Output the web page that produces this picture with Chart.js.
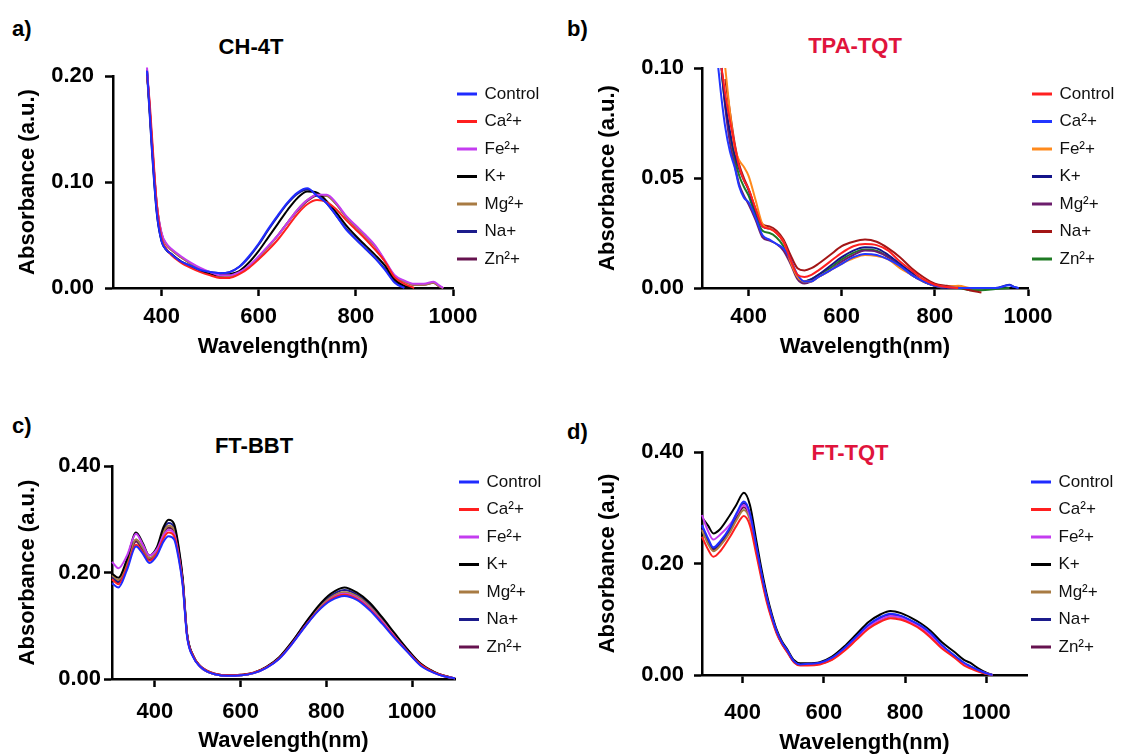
<!DOCTYPE html>
<html>
<head>
<meta charset="utf-8">
<script src="https://cdn.jsdelivr.net/npm/chart.js@4.4.1/dist/chart.umd.min.js"></script>
<style>
  body { margin: 0; background: #fff; width: 1121px; height: 756px; position: relative; overflow: hidden;
         font-family: "Liberation Sans", Arial, Helvetica, sans-serif; }
  canvas { position: absolute; }
  .tag { position: absolute; font-weight: bold; font-size: 22px; line-height: 1; color: #000; }
  .ttl { position: absolute; font-weight: bold; font-size: 22px; line-height: 1; white-space: nowrap;
         transform: translate(-50%, -50%); }
</style>
</head>
<body>
<div class="tag" style="left:12px;top:18px">a)</div>
<div class="tag" style="left:567px;top:18px">b)</div>
<div class="tag" style="left:12px;top:415px">c)</div>
<div class="tag" style="left:567px;top:421px">d)</div>
<div class="ttl" style="left:251px;top:47px;color:#000">CH-4T</div>
<div class="ttl" style="left:855px;top:46px;color:#e0143c">TPA-TQT</div>
<div class="ttl" style="left:254px;top:446px;color:#000">FT-BBT</div>
<div class="ttl" style="left:850px;top:453px;color:#e0143c">FT-TQT</div>

<canvas id="chartA" width="560" height="378" style="left:0;top:0"></canvas>
<canvas id="chartB" width="561" height="378" style="left:560px;top:0"></canvas>
<canvas id="chartC" width="560" height="378" style="left:0;top:378px"></canvas>
<canvas id="chartD" width="561" height="378" style="left:560px;top:378px"></canvas>

<script>
// legend names, same order in every panel
const ionNames = ['Control', 'Ca²+', 'Fe²+', 'K+', 'Mg²+', 'Na+', 'Zn²+'];
const colorsMain = ['#1f2bff', '#ff1f1f', '#c43cf0', '#000000', '#a87b43', '#1c1c8c', '#66124f'];
const colorsTpa = ['#ff2020', '#2236ff', '#ff8a1c', '#14148a', '#6c1d6c', '#a31616', '#1e7a23'];

// ---- a) CH-4T
const waveA = [370, 375, 380, 390, 400, 410, 420, 440, 460, 480, 500, 520, 540, 560, 580, 600, 620, 640,
               660, 680, 700, 720, 740, 760, 780, 800, 820, 840, 860, 880, 900, 920, 940, 960, 970, 980];
const ch4tControl = [0.205, 0.170, 0.133, 0.072, 0.044, 0.036, 0.032, 0.025, 0.021, 0.017, 0.015, 0.014, 0.015, 0.020, 0.030, 0.042, 0.056, 0.069,
                     0.081, 0.090, 0.094, 0.087, 0.080, 0.068, 0.055, 0.046, 0.037, 0.028, 0.017, 0.005, 0.000, null, null, null, null, null];
const ch4tCa = [0.200, 0.178, 0.145, 0.080, 0.047, 0.037, 0.031, 0.024, 0.019, 0.015, 0.012, 0.0095, 0.0095, 0.013, 0.019, 0.027, 0.036, 0.046,
                0.058, 0.070, 0.079, 0.083, 0.081, 0.074, 0.064, 0.055, 0.046, 0.036, 0.025, 0.010, 0.004, 0.000, null, null, null, null];
const ch4tFe = [0.208, 0.175, 0.140, 0.080, 0.052, 0.042, 0.037, 0.030, 0.024, 0.019, 0.015, 0.012, 0.012, 0.015, 0.021, 0.030, 0.040, 0.050,
                0.062, 0.074, 0.083, 0.088, 0.088, 0.080, 0.068, 0.059, 0.050, 0.040, 0.026, 0.012, 0.007, 0.004, 0.004, 0.006, 0.003, 0.000];
const ch4tK = [0.205, 0.172, 0.136, 0.074, 0.045, 0.036, 0.032, 0.025, 0.020, 0.016, 0.013, 0.012, 0.013, 0.016, 0.024, 0.035, 0.048, 0.061,
               0.074, 0.085, 0.091, 0.090, 0.082, 0.071, 0.059, 0.049, 0.040, 0.031, 0.021, 0.008, 0.002, 0.000, null, null, null, null];
const ch4tMg = [0.205, 0.172, 0.138, 0.079, 0.051, 0.041, 0.036, 0.029, 0.023, 0.018, 0.014, 0.011, 0.011, 0.014, 0.020, 0.029, 0.039, 0.050,
                0.062, 0.074, 0.083, 0.088, 0.087, 0.079, 0.067, 0.058, 0.049, 0.039, 0.025, 0.011, 0.006, 0.003, 0.003, 0.005, 0.002, 0.000];
const ch4tNa = [0.203, 0.168, 0.131, 0.071, 0.044, 0.036, 0.032, 0.025, 0.021, 0.017, 0.015, 0.014, 0.015, 0.020, 0.029, 0.041, 0.055, 0.068,
                0.080, 0.089, 0.093, 0.088, 0.080, 0.068, 0.056, 0.046, 0.037, 0.028, 0.018, 0.006, 0.001, null, null, null, null, null];
const ch4tZn = [0.206, 0.173, 0.139, 0.079, 0.051, 0.041, 0.036, 0.029, 0.023, 0.018, 0.014, 0.012, 0.012, 0.014, 0.020, 0.029, 0.039, 0.050,
                0.062, 0.073, 0.082, 0.087, 0.087, 0.079, 0.067, 0.058, 0.049, 0.039, 0.025, 0.011, 0.006, 0.003, 0.003, 0.005, 0.002, 0.000];

// ---- b) TPA-TQT
const waveB = [335, 342, 350, 360, 370, 380, 390, 400, 415, 430, 445, 460, 475, 490, 505, 520, 535, 550,
               575, 600, 625, 650, 675, 700, 725, 750, 775, 800, 825, 850, 875, 900, 930, 960, 970, 980];
const tpaControl = [null, 0.100, 0.088, 0.076, 0.065, 0.055, 0.049, 0.045, 0.036, 0.028, 0.027, 0.025, 0.021, 0.013, 0.006, 0.005, 0.006, 0.008,
                    0.012, 0.016, 0.019, 0.020, 0.0195, 0.017, 0.012, 0.008, 0.004, 0.0015, 0.0005, 0.000, null, null, null, null, null, null];
const tpaCa = [0.100, 0.086, 0.073, 0.062, 0.055, 0.046, 0.041, 0.039, 0.032, 0.024, 0.022, 0.020, 0.018, 0.013, 0.006, 0.003, 0.003, 0.005,
               0.008, 0.011, 0.014, 0.0155, 0.015, 0.013, 0.010, 0.006, 0.003, 0.001, 0.0005, 0.000, 0.000, 0.000, 0.000, 0.0012, 0.0005, 0.000];
const tpaFe = [null, null, 0.100, 0.080, 0.064, 0.058, 0.055, 0.051, 0.040, 0.029, 0.027, 0.025, 0.021, 0.012, 0.005, 0.003, 0.003, 0.005,
               0.008, 0.011, 0.0135, 0.015, 0.0145, 0.013, 0.009, 0.006, 0.003, 0.001, 0.0005, 0.001, 0.000, null, null, null, null, null];
const tpaK = [null, 0.100, 0.084, 0.071, 0.061, 0.054, 0.049, 0.0445, 0.035, 0.028, 0.027, 0.025, 0.021, 0.013, 0.005, 0.003, 0.004, 0.006,
              0.010, 0.014, 0.017, 0.0185, 0.018, 0.015, 0.011, 0.007, 0.003, 0.001, 0.000, 0.000, 0.000, 0.000, 0.000, 0.0015, 0.0005, 0.000];
const tpaMg = [null, 0.100, 0.082, 0.066, 0.056, 0.047, 0.042, 0.038, 0.031, 0.023, 0.0215, 0.020, 0.017, 0.011, 0.004, 0.002, 0.003, 0.005,
               0.008, 0.012, 0.015, 0.017, 0.0165, 0.014, 0.010, 0.006, 0.003, 0.001, 0.000, 0.000, null, null, null, null, null, null];
const tpaNa = [null, null, 0.095, 0.080, 0.066, 0.056, 0.050, 0.045, 0.036, 0.029, 0.028, 0.026, 0.022, 0.015, 0.009, 0.008, 0.009, 0.011,
               0.015, 0.019, 0.021, 0.022, 0.021, 0.018, 0.014, 0.009, 0.005, 0.002, 0.001, 0.0005, -0.001, -0.002, null, null, null, null];
const tpaZn = [null, 0.098, 0.083, 0.070, 0.059, 0.051, 0.046, 0.042, 0.033, 0.026, 0.025, 0.023, 0.019, 0.012, 0.005, 0.003, 0.004, 0.006,
               0.009, 0.013, 0.016, 0.0175, 0.017, 0.014, 0.010, 0.006, 0.003, 0.001, 0.000, 0.000, -0.001, -0.001, -0.0005, 0.000, null, null];

// ---- c) FT-BBT
const waveC = [300, 315, 335, 356, 372, 387, 405, 420, 432, 445, 455, 465, 475, 490, 505, 520, 540, 570,
               600, 630, 660, 690, 720, 750, 780, 810, 842, 870, 900, 930, 960, 990, 1020, 1050, 1075, 1100];
const bbtControl = [0.180, 0.172, 0.205, 0.249, 0.235, 0.218, 0.232, 0.258, 0.268, 0.262, 0.228, 0.175, 0.080, 0.040, 0.024, 0.015, 0.009, 0.006,
                    0.007, 0.011, 0.021, 0.038, 0.066, 0.098, 0.127, 0.147, 0.156, 0.149, 0.130, 0.104, 0.076, 0.050, 0.025, 0.012, 0.005, 0.001];
const bbtCa = [0.187, 0.178, 0.210, 0.252, 0.238, 0.222, 0.236, 0.264, 0.275, 0.268, 0.233, 0.179, 0.083, 0.042, 0.025, 0.016, 0.010, 0.007,
               0.008, 0.012, 0.022, 0.039, 0.067, 0.099, 0.128, 0.149, 0.158, 0.151, 0.132, 0.106, 0.078, 0.051, 0.027, 0.013, 0.006, 0.001];
const bbtFe = [0.220, 0.208, 0.232, 0.273, 0.252, 0.232, 0.244, 0.270, 0.280, 0.273, 0.236, 0.179, 0.082, 0.041, 0.024, 0.015, 0.009, 0.006,
               0.007, 0.011, 0.021, 0.038, 0.066, 0.099, 0.128, 0.150, 0.160, 0.153, 0.134, 0.108, 0.079, 0.051, 0.026, 0.012, 0.005, 0.001];
const bbtK = [0.198, 0.190, 0.225, 0.275, 0.255, 0.232, 0.248, 0.285, 0.299, 0.291, 0.251, 0.189, 0.086, 0.043, 0.025, 0.016, 0.010, 0.007,
              0.008, 0.012, 0.023, 0.041, 0.070, 0.104, 0.136, 0.160, 0.172, 0.163, 0.144, 0.116, 0.085, 0.055, 0.029, 0.014, 0.006, 0.001];
const bbtMg = [0.195, 0.186, 0.218, 0.262, 0.246, 0.227, 0.242, 0.276, 0.288, 0.281, 0.243, 0.184, 0.084, 0.042, 0.024, 0.015, 0.009, 0.006,
               0.007, 0.011, 0.022, 0.039, 0.068, 0.101, 0.131, 0.153, 0.163, 0.156, 0.137, 0.110, 0.081, 0.053, 0.027, 0.013, 0.005, 0.001];
const bbtNa = [0.192, 0.183, 0.215, 0.262, 0.244, 0.226, 0.240, 0.280, 0.293, 0.285, 0.246, 0.186, 0.085, 0.042, 0.024, 0.015, 0.009, 0.006,
               0.007, 0.011, 0.022, 0.040, 0.069, 0.103, 0.133, 0.156, 0.167, 0.159, 0.140, 0.112, 0.082, 0.054, 0.028, 0.013, 0.006, 0.001];
const bbtZn = [0.190, 0.181, 0.213, 0.258, 0.242, 0.224, 0.238, 0.272, 0.284, 0.277, 0.240, 0.182, 0.083, 0.042, 0.024, 0.015, 0.009, 0.006,
               0.007, 0.011, 0.022, 0.039, 0.068, 0.100, 0.130, 0.152, 0.162, 0.155, 0.136, 0.109, 0.080, 0.052, 0.027, 0.013, 0.005, 0.001];

// ---- d) FT-TQT
const waveD = [300, 315, 328, 345, 369, 385, 403, 418, 434, 447, 459, 472, 484, 497, 509, 526, 542, 560,
               590, 620, 650, 680, 710, 740, 764, 790, 814, 840, 863, 890, 920, 945, 960, 980, 1000, 1015];
const tqtControl = [0.269, 0.245, 0.229, 0.240, 0.265, 0.290, 0.311, 0.290, 0.230, 0.180, 0.140, 0.105, 0.078, 0.058, 0.045, 0.025, 0.019, 0.020,
                    0.022, 0.031, 0.048, 0.069, 0.090, 0.104, 0.110, 0.106, 0.098, 0.088, 0.075, 0.054, 0.036, 0.022, 0.016, 0.009, 0.003, 0.000];
const tqtCa = [0.248, 0.225, 0.212, 0.222, 0.248, 0.268, 0.285, 0.268, 0.215, 0.170, 0.132, 0.099, 0.074, 0.055, 0.042, 0.023, 0.017, 0.017,
               0.019, 0.027, 0.043, 0.063, 0.083, 0.096, 0.102, 0.099, 0.092, 0.081, 0.067, 0.048, 0.032, 0.017, 0.012, 0.006, 0.002, 0.000];
const tqtFe = [0.287, 0.258, 0.243, 0.252, 0.270, 0.288, 0.305, 0.285, 0.226, 0.177, 0.138, 0.103, 0.077, 0.057, 0.044, 0.024, 0.018, 0.018,
               0.020, 0.029, 0.046, 0.066, 0.087, 0.100, 0.106, 0.103, 0.095, 0.084, 0.071, 0.051, 0.034, 0.020, 0.015, 0.008, 0.003, 0.000];
const tqtK = [0.283, 0.268, 0.254, 0.262, 0.287, 0.306, 0.327, 0.305, 0.240, 0.188, 0.146, 0.109, 0.081, 0.060, 0.047, 0.027, 0.021, 0.021,
              0.023, 0.033, 0.051, 0.073, 0.095, 0.109, 0.115, 0.111, 0.103, 0.092, 0.079, 0.059, 0.042, 0.027, 0.022, 0.012, 0.004, 0.000];
const tqtMg = [0.260, 0.235, 0.222, 0.232, 0.256, 0.278, 0.296, 0.278, 0.222, 0.175, 0.136, 0.102, 0.076, 0.056, 0.043, 0.024, 0.018, 0.018,
               0.020, 0.028, 0.045, 0.065, 0.086, 0.099, 0.105, 0.102, 0.094, 0.083, 0.070, 0.050, 0.033, 0.019, 0.014, 0.007, 0.002, 0.000];
const tqtNa = [0.266, 0.242, 0.227, 0.238, 0.262, 0.287, 0.308, 0.288, 0.228, 0.178, 0.139, 0.104, 0.077, 0.057, 0.044, 0.025, 0.019, 0.019,
               0.021, 0.030, 0.047, 0.068, 0.089, 0.102, 0.108, 0.105, 0.097, 0.086, 0.073, 0.053, 0.035, 0.021, 0.015, 0.008, 0.003, 0.000];
const tqtZn = [0.262, 0.238, 0.224, 0.235, 0.259, 0.282, 0.301, 0.282, 0.225, 0.176, 0.137, 0.103, 0.076, 0.056, 0.043, 0.024, 0.018, 0.018,
               0.020, 0.029, 0.046, 0.066, 0.087, 0.100, 0.106, 0.103, 0.095, 0.084, 0.071, 0.051, 0.034, 0.020, 0.014, 0.008, 0.002, 0.000];

// tick values
const xTicks = [400, 600, 800, 1000];
const yTicksA = [0, 0.10, 0.20];
const yTicksB = [0, 0.05, 0.10];
const yTicksCD = [0, 0.20, 0.40];

Chart.defaults.font.family = '"Liberation Sans", Arial, Helvetica, sans-serif';
Chart.defaults.color = '#000';

// moves the right-hand legend a little so it sits like the GraphPad one
const legendShift = {
  id: 'legendShift',
  afterLayout(chart, args, opts) {
    const lg = chart.legend;
    if (!lg) return;
    lg.left += opts.dx; lg.right += opts.dx;
    lg.top += opts.dy; lg.bottom += opts.dy;
  }
};

function makeChart(id, p) {
  const datasets = p.series.map(function(ys, i) {
    return {
      label: ionNames[i],
      data: p.wave.map(function(x, j) { return {x: x, y: ys[j]}; }),
      borderColor: p.colors[i],
      backgroundColor: p.colors[i],
      borderWidth: 2,
      pointRadius: 0,
      cubicInterpolationMode: 'monotone',
      clip: false
    };
  });

  const axisGrid = { display: true, drawOnChartArea: false, drawTicks: true, tickLength: 8,
                     tickWidth: 2.5, tickColor: '#000', color: '#000' };
  const axisBorder = { display: true, color: '#000', width: 2.5 };

  return new Chart(document.getElementById(id), {
    type: 'line',
    data: { datasets: datasets },
    plugins: [legendShift],
    options: {
      responsive: false,
      animation: false,
      layout: { padding: { top: p.top, left: 0, right: p.padRight, bottom: 0 } },
      scales: {
        x: {
          type: 'linear', min: 300, max: p.xMax,
          afterFit: function(s) { s.height = p.xAxisH; },
          afterBuildTicks: function(s) { s.ticks = p.xTicks.map(function(v) { return {value: v}; }); },
          ticks: { padding: p.xTickPad, maxRotation: 0, font: { size: 22, weight: 'bold' }, color: '#000',
                   callback: function(v) { return String(v); } },
          grid: axisGrid, border: axisBorder,
          title: { display: true, text: 'Wavelength(nm)', color: '#000',
                   font: { size: 22, weight: 'bold' }, padding: { top: 0, bottom: p.xTitlePad } }
        },
        y: {
          min: 0, max: p.yMax,
          afterFit: function(s) { s.width = p.left; },
          afterBuildTicks: function(s) { s.ticks = p.yTicks.map(function(v) { return {value: v}; }); },
          ticks: { padding: p.yTickPad, font: { size: 22, weight: 'bold' }, color: '#000',
                   callback: function(v) { return v.toFixed(2); } },
          grid: axisGrid, border: axisBorder,
          title: { display: true, text: p.yTitle, color: '#000',
                   font: { size: 22, weight: 'bold' }, padding: { top: p.yTitlePad, bottom: 0 } }
        }
      },
      plugins: {
        tooltip: { enabled: false },
        legend: {
          position: 'right', align: 'start', fullSize: true, maxWidth: p.legendW,
          labels: { boxWidth: 18, boxHeight: 1, padding: 10.5, color: '#111', font: { size: 17 } }
        },
        legendShift: { dx: -5.5, dy: p.legendDy }
      }
    }
  });
}

makeChart('chartA', {
  wave: waveA, series: [ch4tControl, ch4tCa, ch4tFe, ch4tK, ch4tMg, ch4tNa, ch4tZn], colors: colorsMain,
  xMax: 1000, yMax: 0.20, xTicks: xTicks, yTicks: yTicksA, yTitle: 'Absorbance (a.u.)',
  top: 76, left: 113, xAxisH: 90, legendW: 100, padRight: 7, legendDy: -1,
  xTickPad: 7.5, yTickPad: 11, xTitlePad: 17.8, yTitlePad: 15
});
makeChart('chartB', {
  wave: waveB, series: [tpaControl, tpaCa, tpaFe, tpaK, tpaMg, tpaNa, tpaZn], colors: colorsTpa,
  xMax: 1000, yMax: 0.10, xTicks: xTicks, yTicks: yTicksB, yTitle: 'Absorbance (a.u.)',
  top: 68, left: 142, xAxisH: 90, legendW: 93, padRight: 0, legendDy: 7,
  xTickPad: 7.5, yTickPad: 10, xTitlePad: 17.8, yTitlePad: 35
});
makeChart('chartC', {
  wave: waveC, series: [bbtControl, bbtCa, bbtFe, bbtK, bbtMg, bbtNa, bbtZn], colors: colorsMain,
  xMax: 1100, yMax: 0.40, xTicks: xTicks, yTicks: yTicksCD, yTitle: 'Absorbance (a.u.)',
  top: 88, left: 112, xAxisH: 77, legendW: 100, padRight: 5, legendDy: -3,
  xTickPad: 12, yTickPad: 3, xTitlePad: 1.8, yTitlePad: 15
});
makeChart('chartD', {
  wave: waveD, series: [tqtControl, tqtCa, tqtFe, tqtK, tqtMg, tqtNa, tqtZn], colors: colorsMain,
  xMax: 1100, yMax: 0.40, xTicks: xTicks, yTicks: yTicksCD, yTitle: 'Absorbance (a.u)',
  top: 74, left: 142, xAxisH: 81, legendW: 94, padRight: 0, legendDy: 11,
  xTickPad: 16.5, yTickPad: 10, xTitlePad: 0, yTitlePad: 35
});
</script>
</body>
</html>
